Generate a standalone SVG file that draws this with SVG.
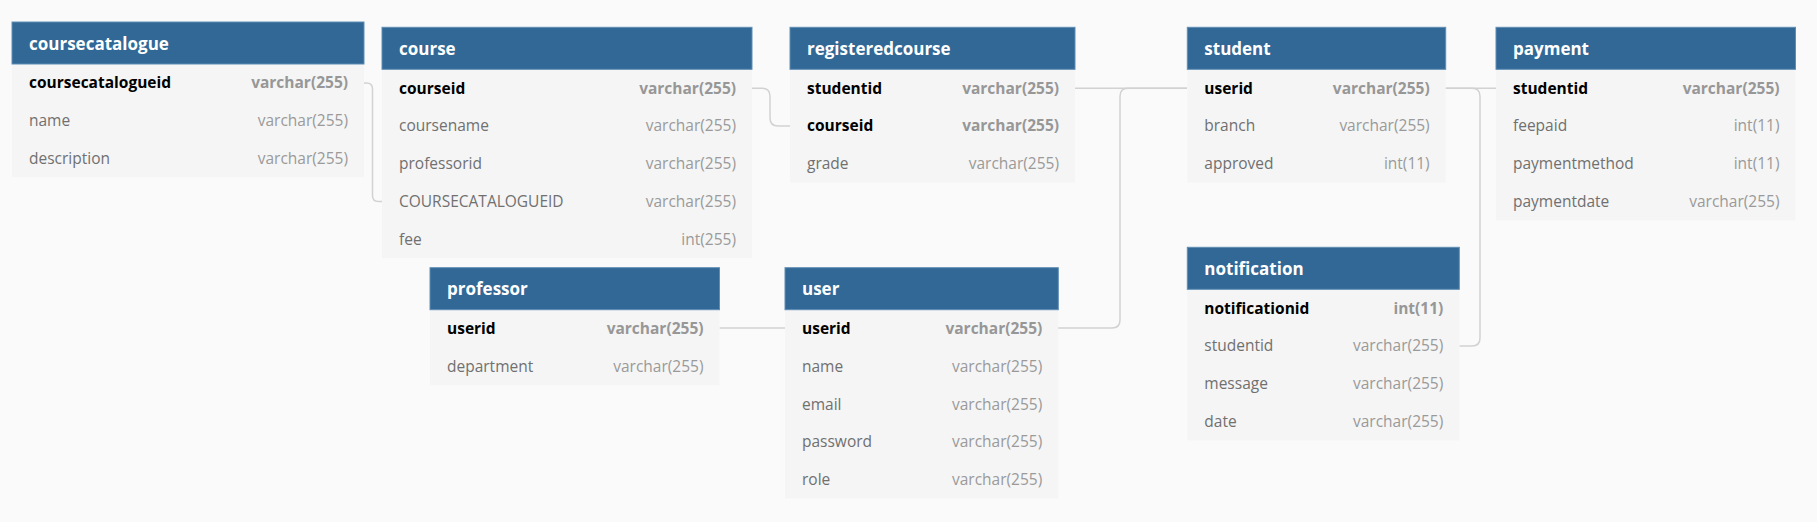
<svg xmlns="http://www.w3.org/2000/svg" width="1817" height="522" viewBox="0 0 1817 522">
<style>
.bg{fill:#fafafa}
.hd{fill:#316896;stroke:#5f8db5;stroke-width:1}
.bd{fill:#f5f5f5}
.tt{font-family:"Open Sans","Noto Sans",sans-serif;font-size:17px;font-weight:700;fill:#ffffff}
.pk{font-family:"Open Sans","Noto Sans",sans-serif;font-size:15.5px;font-weight:700;fill:#000000}
.pkt{font-family:"Open Sans","Noto Sans",sans-serif;font-size:15.5px;font-weight:700;fill:#979797;text-anchor:end}
.f{font-family:"Open Sans","Noto Sans",sans-serif;font-size:15.5px;fill:#707070}
.ft{font-family:"Open Sans","Noto Sans",sans-serif;font-size:15.5px;fill:#9a9a9a;text-anchor:end}
.c{fill:none;stroke:#d2d2d2;stroke-width:1.5}
</style>
<rect class="bg" x="0" y="0" width="1817" height="522"/>
<g id="connectors">
<path class="c" d="M364,83 H366.5 Q372.5,83 372.5,89 V195.4 Q372.5,201.4 378.5,201.4 H382"/>
<path class="c" d="M752,88.2 H762 Q770,88.2 770,96.2 V117.9 Q770,125.9 778,125.9 H790"/>
<path class="c" d="M1075,88.2 H1187"/>
<path class="c" d="M1058,328 H1112 Q1120,328 1120,320 V96.2 Q1120,88.2 1128,88.2 H1187"/>
<path class="c" d="M719.5,328 H785"/>
<path class="c" d="M1445.5,88.2 H1496"/>
<path class="c" d="M1445.5,88.2 H1472 Q1480,88.2 1480,96.2 V337.9 Q1480,345.9 1472,345.9 H1459.5"/>
</g>
<g id="coursecatalogue" transform="translate(12,22)">
<rect class="bd" x="0" y="42" width="352" height="113.25"/>
<rect class="hd" x="0" y="0" width="352" height="42"/>
<text class="tt" x="17" y="27.5">coursecatalogue</text>
<text class="pk" x="17" y="66.4">coursecatalogueid</text><text class="pkt" x="336" y="66.4">varchar(255)</text>
<text class="f" x="17" y="104.1">name</text><text class="ft" x="336" y="104.1">varchar(255)</text>
<text class="f" x="17" y="141.9">description</text><text class="ft" x="336" y="141.9">varchar(255)</text>
</g>
<g id="course" transform="translate(382,27.3)">
<rect class="bd" x="0" y="42" width="370" height="188.75"/>
<rect class="hd" x="0" y="0" width="370" height="42"/>
<text class="tt" x="17" y="27.5">course</text>
<text class="pk" x="17" y="66.4">courseid</text><text class="pkt" x="354" y="66.4">varchar(255)</text>
<text class="f" x="17" y="104.1">coursename</text><text class="ft" x="354" y="104.1">varchar(255)</text>
<text class="f" x="17" y="141.9">professorid</text><text class="ft" x="354" y="141.9">varchar(255)</text>
<text class="f" x="17" y="179.6">COURSECATALOGUEID</text><text class="ft" x="354" y="179.6">varchar(255)</text>
<text class="f" x="17" y="217.4">fee</text><text class="ft" x="354" y="217.4">int(255)</text>
</g>
<g id="registeredcourse" transform="translate(790,27.3)">
<rect class="bd" x="0" y="42" width="285" height="113.25"/>
<rect class="hd" x="0" y="0" width="285" height="42"/>
<text class="tt" x="17" y="27.5">registeredcourse</text>
<text class="pk" x="17" y="66.4">studentid</text><text class="pkt" x="269" y="66.4">varchar(255)</text>
<text class="pk" x="17" y="104.1">courseid</text><text class="pkt" x="269" y="104.1">varchar(255)</text>
<text class="f" x="17" y="141.9">grade</text><text class="ft" x="269" y="141.9">varchar(255)</text>
</g>
<g id="student" transform="translate(1187.3,27.3)">
<rect class="bd" x="0" y="42" width="258.4" height="113.25"/>
<rect class="hd" x="0" y="0" width="258.4" height="42"/>
<text class="tt" x="17" y="27.5">student</text>
<text class="pk" x="17" y="66.4">userid</text><text class="pkt" x="242.4" y="66.4">varchar(255)</text>
<text class="f" x="17" y="104.1">branch</text><text class="ft" x="242.4" y="104.1">varchar(255)</text>
<text class="f" x="17" y="141.9">approved</text><text class="ft" x="242.4" y="141.9">int(11)</text>
</g>
<g id="payment" transform="translate(1496,27.3)">
<rect class="bd" x="0" y="42" width="299.5" height="151"/>
<rect class="hd" x="0" y="0" width="299.5" height="42"/>
<text class="tt" x="17" y="27.5">payment</text>
<text class="pk" x="17" y="66.4">studentid</text><text class="pkt" x="283.5" y="66.4">varchar(255)</text>
<text class="f" x="17" y="104.1">feepaid</text><text class="ft" x="283.5" y="104.1">int(11)</text>
<text class="f" x="17" y="141.9">paymentmethod</text><text class="ft" x="283.5" y="141.9">int(11)</text>
<text class="f" x="17" y="179.6">paymentdate</text><text class="ft" x="283.5" y="179.6">varchar(255)</text>
</g>
<g id="professor" transform="translate(430,267.7)">
<rect class="bd" x="0" y="42" width="289.5" height="75.5"/>
<rect class="hd" x="0" y="0" width="289.5" height="42"/>
<text class="tt" x="17" y="27.5">professor</text>
<text class="pk" x="17" y="66.4">userid</text><text class="pkt" x="273.5" y="66.4">varchar(255)</text>
<text class="f" x="17" y="104.1">department</text><text class="ft" x="273.5" y="104.1">varchar(255)</text>
</g>
<g id="user" transform="translate(785,267.7)">
<rect class="bd" x="0" y="42" width="273.3" height="188.75"/>
<rect class="hd" x="0" y="0" width="273.3" height="42"/>
<text class="tt" x="17" y="27.5">user</text>
<text class="pk" x="17" y="66.4">userid</text><text class="pkt" x="257.3" y="66.4">varchar(255)</text>
<text class="f" x="17" y="104.1">name</text><text class="ft" x="257.3" y="104.1">varchar(255)</text>
<text class="f" x="17" y="141.9">email</text><text class="ft" x="257.3" y="141.9">varchar(255)</text>
<text class="f" x="17" y="179.6">password</text><text class="ft" x="257.3" y="179.6">varchar(255)</text>
<text class="f" x="17" y="217.4">role</text><text class="ft" x="257.3" y="217.4">varchar(255)</text>
</g>
<g id="notification" transform="translate(1187.3,247.3)">
<rect class="bd" x="0" y="42" width="272" height="151"/>
<rect class="hd" x="0" y="0" width="272" height="42"/>
<text class="tt" x="17" y="27.5">notification</text>
<text class="pk" x="17" y="66.4">notificationid</text><text class="pkt" x="256" y="66.4">int(11)</text>
<text class="f" x="17" y="104.1">studentid</text><text class="ft" x="256" y="104.1">varchar(255)</text>
<text class="f" x="17" y="141.9">message</text><text class="ft" x="256" y="141.9">varchar(255)</text>
<text class="f" x="17" y="179.6">date</text><text class="ft" x="256" y="179.6">varchar(255)</text>
</g>
</svg>
